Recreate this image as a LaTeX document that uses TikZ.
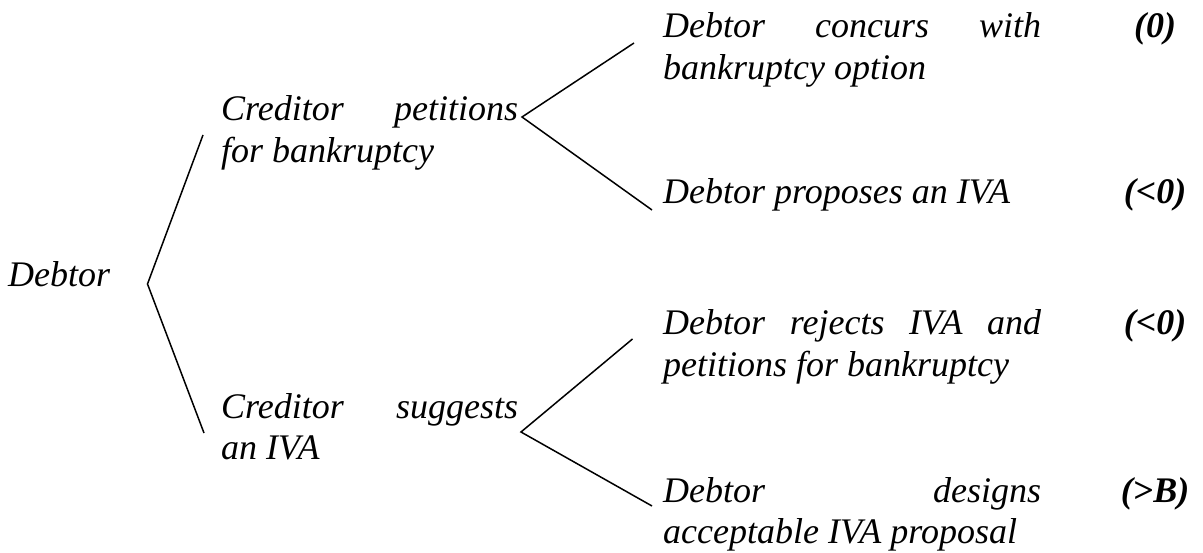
\documentclass[tikz,border=0pt]{standalone}
\usepackage{fontspec}
\setmainfont{Liberation Serif}
\usepackage{tikz}
\usetikzlibrary{positioning}
\tikzset{
    choicetext/.style={
        anchor=base west, inner sep=0pt, text width=#1, align=justify,
        font=\fontsize{36bp}{41.6bp}\selectfont\itshape
    },
    choicetext/.default=378bp,
    rootlabel/.style={
        anchor=base west, inner sep=0pt,
        font=\fontsize{36bp}{41.6bp}\selectfont\itshape
    },
    payoff/.style={
        anchor=base, inner sep=0pt,
        font=\fontsize{36bp}{41.6bp}\selectfont\bfseries\itshape
    },
    branch/.style={
        line width=1.5bp, color=black
    },
}

\begin{document}
\begin{tikzpicture}[x=1bp, y=-1bp]
    \useasboundingbox (0,0) rectangle (1203,553);

    % Root: debtor
    \node[rootlabel] (debtor) at (8,287) {Debtor};

    % Creditor moves
    \node[choicetext=297bp] (petition) at (221,121) {Creditor petitions\linebreak for bankruptcy};
    \node[choicetext=297bp] (suggest) at (221,418) {Creditor suggests\linebreak an IVA};

    % Debtor responses
    \node[choicetext] (concur) at (663,38) {Debtor concurs with\linebreak bankruptcy option};
    \node[choicetext] (propose) at (663,204) {Debtor proposes an IVA};
    \node[choicetext] (reject) at (663,335) {Debtor rejects IVA and\linebreak petitions for bankruptcy};
    \node[choicetext] (design) at (663,502) {Debtor designs\linebreak acceptable IVA proposal};

    % Payoffs
    \node[payoff] (pconcur) at (1155,38) {(0)};
    \node[payoff] (ppropose) at (1155,204) {(<0)};
    \node[payoff] (preject) at (1155,335) {(<0)};
    \node[payoff] (pdesign) at (1155,502) {(>B)};

    % Fork points and branch ends
    \coordinate (fork0) at (147.5,284);
    \coordinate (fork1) at (522,117);
    \coordinate (fork2) at (521,432);
    \coordinate (petition-in) at (203,135);
    \coordinate (suggest-in) at (204,433);
    \coordinate (concur-in) at (634,43);
    \coordinate (propose-in) at (652,210);
    \coordinate (reject-in) at (632.5,339);
    \coordinate (design-in) at (652,506);

    % Branches
    \draw[branch] (petition-in) -- (fork0) -- (suggest-in);
    \draw[branch] (concur-in) -- (fork1) -- (propose-in);
    \draw[branch] (reject-in) -- (fork2) -- (design-in);

\end{tikzpicture}
\end{document}
